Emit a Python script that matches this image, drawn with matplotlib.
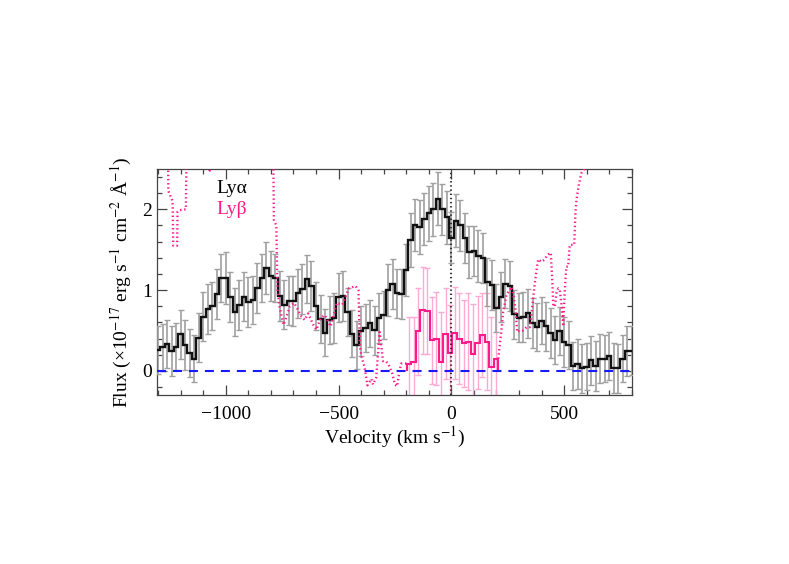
import numpy as np
import matplotlib
matplotlib.use('Agg')
import matplotlib.pyplot as plt
from matplotlib.ticker import MultipleLocator

plt.rcParams['font.family'] = ['Liberation Serif', 'DejaVu Serif']
plt.rcParams['mathtext.fontset'] = 'stix'
plt.rcParams['font.size'] = 14
plt.rcParams['lines.scale_dashes'] = False

# Ly-alpha spectrum, 20 km/s bins starting at -1310 km/s
lya_start = -1310
lya_width = 20
lya_flux = [0.26, 0.29, 0.33, 0.24, 0.30, 0.45, 0.32, 0.22, 0.15, 0.41,
            0.67, 0.76, 0.80, 0.95, 1.15, 1.15, 0.91, 0.73, 0.82, 0.92,
            0.85, 0.88, 1.02, 1.15, 1.27, 1.18, 1.15, 0.93, 0.82, 0.87,
            0.87, 0.96, 1.01, 1.14, 1.05, 0.80, 0.64, 0.47, 0.63, 0.65,
            0.91, 0.93, 0.73, 0.46, 0.32, 0.49, 0.53, 0.59, 0.50, 0.65,
            0.69, 1.00, 1.07, 0.96, 0.95, 1.25, 1.62, 1.81, 1.78, 1.88,
            1.95, 2.00, 2.13, 2.00, 1.90, 1.65, 1.86, 1.80, 1.65, 1.47,
            1.48, 1.42, 1.40, 1.10, 1.06, 0.78, 0.92, 1.08, 1.05, 0.70,
            0.66, 0.67, 0.71, 0.59, 0.54, 0.62, 0.55, 0.47, 0.38, 0.49,
            0.36, 0.32, 0.06, 0.08, 0.03, 0.05, 0.13, 0.06, 0.15, 0.15,
            0.18, 0.03, 0.03, 0.15, 0.25, 0.25]
lya_err = [0.30, 0.29, 0.30, 0.31, 0.29, 0.30, 0.31, 0.30, 0.29, 0.30,
           0.30, 0.31, 0.30, 0.31, 0.30, 0.32, 0.31, 0.30, 0.31, 0.30,
           0.31, 0.30, 0.31, 0.30, 0.32, 0.31, 0.30, 0.31, 0.30, 0.30,
           0.31, 0.30, 0.31, 0.30, 0.31, 0.30, 0.30, 0.29, 0.30, 0.31,
           0.30, 0.31, 0.30, 0.29, 0.30, 0.31, 0.30, 0.29, 0.30, 0.31,
           0.30, 0.32, 0.31, 0.30, 0.31, 0.32, 0.33, 0.32, 0.33, 0.32,
           0.34, 0.33, 0.33, 0.32, 0.33, 0.32, 0.33, 0.32, 0.31, 0.32,
           0.31, 0.32, 0.31, 0.30, 0.31, 0.30, 0.31, 0.30, 0.31, 0.30,
           0.30, 0.31, 0.30, 0.31, 0.30, 0.29, 0.30, 0.31, 0.30, 0.30,
           0.31, 0.30, 0.30, 0.31, 0.30, 0.29, 0.30, 0.31, 0.30, 0.29,
           0.30, 0.31, 0.30, 0.29, 0.31, 0.30]

# Ly-beta inside the fitted window
lyb_start = -198
lyb_width = 20.3
lyb_flux = [0.09, 0.11, 0.49, 0.75, 0.74, 0.38, 0.40, 0.11, 0.46, 0.22,
            0.47, 0.40, 0.34, 0.36, 0.21, 0.35, 0.44, 0.36, 0.05, 0.15]
lyb_err = [0.58, 0.56, 0.54, 0.54, 0.53, 0.54, 0.58, 0.62, 0.56, 0.60,
           0.57, 0.56, 0.54, 0.60, 0.62, 0.58, 0.52, 0.60, 0.62, 0.65]

# Ly-beta outside the window (dotted)
dot_v_a = [-1310, -1256, -1255, -1236, -1233, -1216, -1214, -1203, -1177, -1173,
           -1075, -1071, -1067, -790, -787, -776, -771, -762, -744, -731,
           -716, -697, -685, -664, -650, -635, -612, -598, -580, -561,
           -535, -508, -483, -455, -425, -412, -405, -398, -385, -372,
           -355, -347, -333, -318, -310, -303, -292, -280, -262, -250,
           -240, -230, -222, -198]
dot_f_a = [3.0, 3.0, 2.23, 2.1, 1.55, 1.55, 1.97, 1.99, 2.0, 3.0,
           3.0, 2.48, 3.0, 3.0, 1.87, 1.8, 1.0, 0.8, 0.57, 0.67,
           0.8, 0.84, 0.78, 0.67, 0.63, 0.71, 0.57, 0.51, 0.65, 0.69,
           0.55, 0.84, 0.82, 1.02, 1.05, 1.0, 0.3, 0.17, 0.05, -0.18,
           -0.1, -0.17, -0.08, 0.48, 0.3, 0.12, 0.12, 0.09, -0.03, -0.17,
           -0.19, 0.0, 0.09, 0.09]
dot_v_b = [208, 222, 230, 245, 260, 267, 275, 285, 292, 304,
           318, 333, 348, 355, 363, 370, 378, 385, 400, 415,
           422, 437, 441, 448, 452, 459, 467, 474, 481, 489,
           496, 503, 510, 518, 525, 545, 550, 555, 565, 577,
           590, 600]
dot_f_b = [0.15, 0.5, 0.73, 0.95, 1.0, 1.04, 0.95, 0.75, 0.48, 0.5,
           0.5, 0.54, 0.54, 0.7, 0.9, 1.08, 1.25, 1.38, 1.35, 1.38,
           1.42, 1.46, 1.46, 1.1, 0.8, 0.8, 0.98, 1.02, 1.0, 0.8,
           0.55, 1.0, 1.29, 1.29, 1.56, 1.56, 1.95, 2.12, 2.3, 2.45,
           2.5, 3.0]

lya_edges = lya_start + lya_width * np.arange(len(lya_flux) + 1)
lya_cen = 0.5 * (lya_edges[:-1] + lya_edges[1:])
lyb_edges = lyb_start + lyb_width * np.arange(len(lyb_flux) + 1)
lyb_cen = 0.5 * (lyb_edges[:-1] + lyb_edges[1:])

pink = '#ff1a8c'

fig = plt.figure(figsize=(7.89, 5.64), dpi=100)
ax = fig.add_axes([0.199, 0.2996, 0.6017, 0.4008])

# error bars
ax.errorbar(lyb_cen, lyb_flux, yerr=lyb_err, fmt='none', ecolor='#ffaad4',
            elinewidth=1.0, capsize=2.5, capthick=1.0, zorder=2)
ax.errorbar(lya_cen, lya_flux, yerr=lya_err, fmt='none', ecolor='#a0a0a0',
            elinewidth=1.2, capsize=2.5, capthick=1.0, zorder=3)

# spectra
ax.stairs(lya_flux, lya_edges, color='#111111', lw=1.7, zorder=4)
ax.plot(dot_v_a, dot_f_a, color=pink, lw=1.7, dashes=(1.0, 2.0), zorder=5)
ax.plot(dot_v_b, dot_f_b, color=pink, lw=1.7, dashes=(1.0, 2.0), zorder=5)
ax.stairs(lyb_flux, lyb_edges, color=pink, lw=1.5, zorder=6)

ax.axhline(0, color='#1a1aff', lw=1.5, dashes=(6.5, 5), zorder=7)
ax.axvline(0, color='#333333', lw=1.5, dashes=(1.0, 2.0), zorder=7)

ax.text(0.126, 0.892, 'Ly\u03b1', transform=ax.transAxes, color='black',
        fontsize=14, va='baseline')
ax.text(0.126, 0.803, 'Ly\u03b2', transform=ax.transAxes, color=pink,
        fontsize=14, va='baseline')

ax.set_xlim(-1305, 800)
ax.set_ylim(-0.3, 2.5)
ax.xaxis.set_major_locator(MultipleLocator(500))
ax.xaxis.set_minor_locator(MultipleLocator(100))
ax.yaxis.set_major_locator(MultipleLocator(1))
ax.yaxis.set_minor_locator(MultipleLocator(0.2))
ax.tick_params(which='both', direction='in', top=True, right=True,
               color='#444444', width=0.9)
ax.tick_params(which='major', length=7)
ax.tick_params(which='minor', length=3.5)
ax.tick_params(axis='x', which='major', pad=8)
ax.tick_params(axis='y', which='major', pad=3.5)
for s in ax.spines.values():
    s.set_color('#444444')
    s.set_linewidth(0.9)

ax.set_xlabel('Velocity (km s$^{-1}$)', labelpad=1)
ax.set_ylabel('Flux (\u00d710$^{-17}$ erg s$^{-1}$ cm$^{-2}$ \u00c5$^{-1}$)', labelpad=6)

fig.savefig('out.png', dpi=100)
